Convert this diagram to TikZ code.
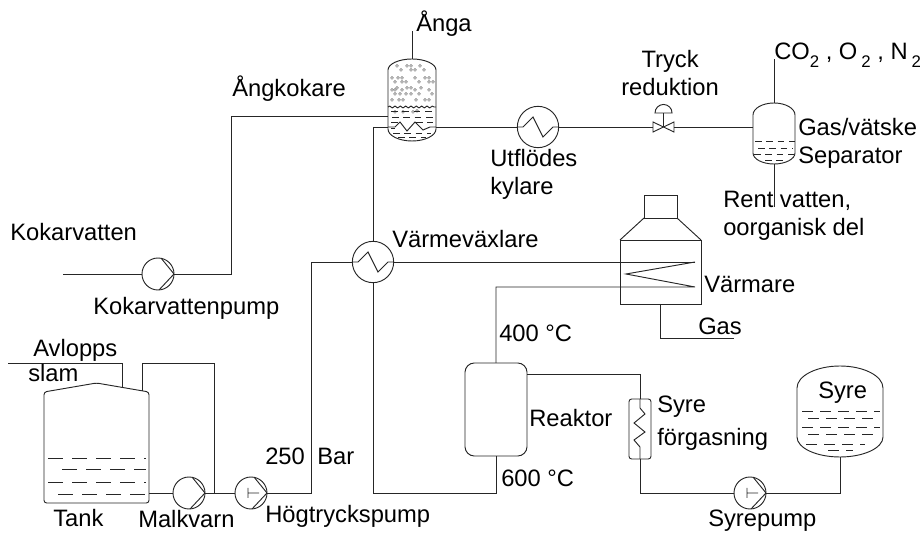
\documentclass[tikz,border=0pt]{standalone}
\usepackage{fontspec}
\setmainfont{Liberation Sans}
\usetikzlibrary{calc, decorations.pathmorphing}
\tikzset{pipe/.style = {line width = 0.7pt, draw = black!85}}
\tikzset{label/.style = {anchor = base west, inner sep = 0pt, align = left, font = \fontsize{17.8}{21}\selectfont}}
\tikzset{vessel/.style = {shape = rectangle, inner sep = 0pt, outer sep = 0pt}}
\tikzset{box/.style = {shape = rectangle, pipe, inner sep = 0pt, outer sep = 0pt}}
\tikzset{exchanger/.style = {shape = circle, pipe, inner sep = 0pt, minimum size = 31pt, path picture = {
	\draw[pipe, shift = {(path picture bounding box.center)}] (-21, 0) -- (-15, 0) -- (-5, -10) -- (5, 10) -- (15, 0) -- (21, 0);}}}
\tikzset{pump/.style = {shape = circle, pipe, inner sep = 0pt, minimum size = 24pt, path picture = {
	\draw[pipe, shift = {(path picture bounding box.center)}, xscale = #1] (3, -16) -- (16, 0) -- (1, 16);}}}
\tikzset{teepump/.style = {shape = circle, pipe, inner sep = 0pt, minimum size = 24pt, path picture = {
	\draw[pipe, shift = {(path picture bounding box.center)}, xscale = #1] (3, -16) -- (16, 0) -- (1, 16) (-3, -5) -- (-3, 5) (-3, 0) -- (8, 0);}}}
\tikzset{liquid/.style = {line width = 0.6pt, draw = black!85, dash pattern = on 11pt off 7pt}}
\tikzset{liquidfine/.style = {line width = 0.6pt, draw = black!85, dash pattern = on 5pt off 3.5pt}}
\newcommand{\domed}[3]{\draw[pipe] ($(#1.north west)+(0, #2)$) .. controls ($(#1.north west)+(0, 0.45*#2)$) and ($(#1.north west)!0.45!(#1.north)$) .. (#1.north) .. controls ($(#1.north east)!0.45!(#1.north)$) and ($(#1.north east)+(0, 0.45*#2)$) .. ($(#1.north east)+(0, #2)$) -- ($(#1.south east)+(0, -#3)$) .. controls ($(#1.south east)+(0, -0.45*#3)$) and ($(#1.south east)!0.45!(#1.south)$) .. (#1.south) .. controls ($(#1.south west)!0.45!(#1.south)$) and ($(#1.south west)+(0, -0.45*#3)$) .. ($(#1.south west)+(0, -#3)$) -- cycle;}
\newcommand{\lowtwo}{\raisebox{-6pt}{\fontsize{12.6}{14}\selectfont 2}}

\begin{document}
\begin{tikzpicture}[x = 0.75pt, y = -0.75pt]
	\useasboundingbox (0, 0) rectangle (922, 534);

	\node[vessel, minimum width = 36pt, minimum height = 61.5pt] (drum) at (412, 100) {};
	\node[vessel, minimum width = 31.5pt, minimum height = 45.75pt] (separator) at (774, 133.5) {};
	\node[vessel, minimum width = 64.5pt, minimum height = 68.25pt] (oxygen) at (840, 411.5) {};
	\node[vessel, minimum width = 78.75pt, minimum height = 90pt] (tank) at (96.5, 443) {};
	\node[box, draw, minimum width = 46.5pt, minimum height = 69.75pt, rounded corners = 7pt] (reactor) at (496, 409.5) {};
	\node[box, draw, minimum width = 16.5pt, minimum height = 45pt, rounded corners = 2pt] (gasifier) at (640, 429) {};
	\node[box, draw, minimum width = 60.75pt, minimum height = 48pt] (heater) at (660.5, 272) {};
	\node[box, draw, minimum width = 24.75pt, minimum height = 17.25pt] (chimney) at (660.5, 206.5) {};
	\node[exchanger, draw] (cooler) at (538, 127) {};
	\node[exchanger, draw] (recovery) at (373, 262) {};
	\node[pump = 1, draw] (feedpump) at (158, 274) {};
	\node[pump = 1, draw] (mill) at (189, 493) {};
	\node[teepump = 1, draw] (hppump) at (251, 493) {};
	\node[teepump = -1, draw] (oxypump) at (750, 493) {};
	\node[vessel, minimum width = 15.75pt, minimum height = 7.5pt] (valve) at (663.5, 127) {};

	\coordinate (steamout) at (412, 31);
	\coordinate (feedin) at (63, 274);
	\coordinate (boilbend) at (231, 116);
	\coordinate (coilin) at (388, 127);
	\coordinate (coilout) at (436, 127);
	\coordinate (riser) at (373, 127);
	\coordinate (gastop) at (774, 59);
	\coordinate (waterout) at (774, 207);
	\coordinate (hotin) at (695, 262);
	\coordinate (hotmid) at (626, 274);
	\coordinate (hotout) at (695, 287);
	\coordinate (hotbend) at (496, 287);
	\coordinate (fuelout) at (734, 338);
	\coordinate (hpbend) at (311, 262);
	\coordinate (reactorbend) at (496, 493);
	\coordinate (oxybend) at (640, 374);
	\coordinate (sludgein) at (8, 363);
	\coordinate (sludgebend) at (122, 363);
	\coordinate (sludgeroof) at (122, 387);
	\coordinate (backroof) at (142, 391);
	\coordinate (backtop) at (142, 363);
	\coordinate (backbend) at (214, 363);
	\coordinate (backjoin) at (214, 493);

	\domed{drum}{11}{12}
	\domed{separator}{12}{11}
	\domed{oxygen}{22}{20}
	\draw[pipe, rounded corners = 2pt] ($(tank.north west)+(0, 9)$) -- (tank.north) -- ($(tank.north east)+(0, 9)$) -- (tank.south east) -- (tank.south west) -- cycle;
	\draw[pipe] (chimney.south west) to (heater.north west);
	\draw[pipe] (chimney.south east) to (heater.north east);
	\draw[pipe] (valve.north west) -- (valve.south east) -- (valve.north east) -- (valve.south west) -- cycle;
	\draw[pipe] (valve.center) -- ++(0, -14) ++(-8.5, 0) arc[start angle = 180, end angle = 0, radius = 6.4pt] -- cycle;

	\draw[pipe] (drum.north) to (steamout);
	\draw[pipe] (feedin) to (feedpump);
	\draw[pipe] (feedpump) -| (boilbend) -- (boilbend -| drum.west);
	\draw[pipe] (riser) to (coilin);
	\draw[pipe] (coilin) -- (395, 127) -- (400, 122) -- (407, 131) -- (415, 122) -- (423, 130) -- (430, 127) -- (coilout);
	\draw[pipe] (coilout) to (cooler);
	\draw[pipe] (cooler) to (valve);
	\draw[pipe] (valve) to (valve -| separator.west);
	\draw[pipe] (separator.north) to (gastop);
	\draw[pipe] (separator.south) to (waterout);
	\draw[pipe] (riser) to (recovery);
	\draw[pipe] (recovery) to (hotin);
	\draw[pipe] (hotin) -- (hotmid) -- (hotout) -- (hotbend) -- (reactor.north);
	\draw[pipe] (heater.south) |- (fuelout);
	\draw[pipe] (recovery) |- (reactorbend) -- (reactor.south);
	\draw[pipe] (oxybend -| reactor.east) -- (oxybend) -- (gasifier.north);
	\draw[pipe] (gasifier.north) -- (640, 408) -- (645, 414) -- (634, 423) -- (645, 432) -- (634, 440) -- (640, 447) -- (gasifier.south);
	\draw[pipe] (gasifier.south) |- (oxypump);
	\draw[pipe] (oxypump) -| (oxygen.south);
	\draw[pipe] (tank.east |- mill) to (mill);
	\draw[pipe] (mill) to (hppump);
	\draw[pipe] (hppump) -| (hpbend) -- (recovery);
	\draw[pipe] (sludgein) -- (sludgebend) -- (sludgeroof);
	\draw[pipe] (backroof) -- (backtop) -- (backbend) -- (backjoin);

	\draw[pipe, decorate, decoration = {snake, segment length = 4pt, amplitude = 0.7pt}] (388, 107) -- (436, 107);
	\foreach \a/\b in {397/66, 401/70, 407/66, 411/66, 411/70, 415/70, 420/66, 424/70, 392/78, 395/82, 398/78, 402/78, 402/82, 406/82, 415/78, 419/82, 425/78, 429/78, 429/82, 433/82, 392/90, 395/90, 397/88, 402/90, 395/94, 400/94, 407/88, 411/88, 415/90, 421/88, 411/94, 419/94, 429/90, 432/94, 406/94, 392/100, 399/100, 403/100, 416/100, 425/100, 429/100, 395/112, 403/112, 413/112, 417/111}
		\draw[line width = 0.3pt, black!60] (\a, \b) circle (1.1pt);
	\foreach \h/\l/\r in {111/391/433, 117/392/433, 122/391/400, 122/416/433, 128/391/395, 133/393/431, 137/398/426}
		\draw[liquidfine] (\l, \h) -- (\r, \h);
	\foreach \h/\l/\r in {141/755/795, 148/758/793, 154/754/794, 160/765/785}
		\draw[liquidfine] (\l, \h) -- (\r, \h);
	\foreach \h/\l/\r in {458/48/146, 469/62/146, 482/48/146, 494/58/146}
		\draw[liquid] (\l, \h) -- (\r, \h);
	\foreach \h/\l/\r in {411/802/880, 418/808/878, 427/802/880, 434/808/875, 444/806/865, 450/828/853}
		\draw[liquid, dash pattern = on 8pt off 5.5pt] (\l, \h) -- (\r, \h);

	\node[label] (steamlabel) at (416, 32) {Ånga};
	\node[label] (boilerlabel) at (232, 97) {Ångkokare};
	\node[label] (feedlabel) at (10, 241) {Kokarvatten};
	\node[label] (feedpumplabel) at (93, 315) {Kokarvattenpump};
	\node[label] (coolerlabel) at (490, 195) {Utflödes\\kylare};
	\node[label, align = center] (valvelabel) at (621, 96) {Tryck\\reduktion};
	\node[label] (gaslabel) at (774, 60) {CO\lowtwo{} , O\,\lowtwo{} , N\,\lowtwo};
	\node[label] (separatorlabel) at (798, 164) {Gas/vätske\\Separator};
	\node[label] (waterlabel) at (723, 236) {Rent vatten,\\oorganisk del};
	\node[label] (recoverylabel) at (392, 248) {Värmeväxlare};
	\node[label] (heaterlabel) at (704, 293) {Värmare};
	\node[label] (fuellabel) at (698, 335) {Gas};
	\node[label] (hotlabel) at (499, 342) {400 °C};
	\node[label] (reactorlabel) at (529, 427) {Reaktor};
	\node[label] (coldlabel) at (501, 487) {600 °C};
	\node[label] (gasifierlabel) at (657, 446) {Syre\\[3.75pt]förgasning};
	\node[label] (oxygenlabel) at (818, 399) {Syre};
	\node[label] (oxypumplabel) at (708, 527) {Syrepump};
	\node[label] (sludgelabel) at (33, 357) {Avlopps};
	\node[label] (sludgelabelb) at (28, 382) {slam};
	\node[label] (tanklabel) at (53, 527) {Tank};
	\node[label] (milllabel) at (138, 528) {Malkvarn};
	\node[label] (pressurelabel) at (265, 465) {250\hspace{9.4pt}Bar};
	\node[label] (hppumplabel) at (265, 523) {Högtryckspump};
\end{tikzpicture}
\end{document}
